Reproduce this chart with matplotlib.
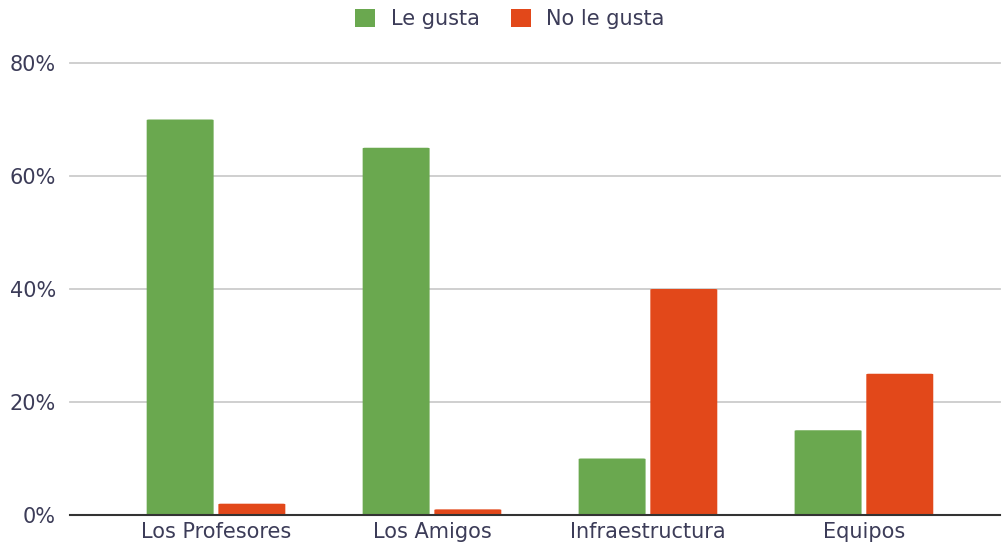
import matplotlib
matplotlib.use("Agg")
import matplotlib.pyplot as plt
from matplotlib.patches import FancyBboxPatch
import numpy as np

categories = ["Los Profesores", "Los Amigos", "Infraestructura", "Equipos"]
le_gusta = [70, 65, 10, 15]
no_le_gusta = [2, 1, 40, 25]
y_ticks = [0, 20, 40, 60, 80]

GREEN = "#6aa84f"
RED = "#e2481a"
TEXT = "#3c3c58"

plt.rcParams["font.family"] = ["DejaVu Sans"]

fig = plt.figure(figsize=(10.02, 5.48), dpi=100)
ax = fig.add_axes([70 / 1002, 33 / 548, 930 / 1002, 452 / 548])

x = np.arange(len(categories))
width = 0.31
offset = 0.166


def rounded_bars(ax, xs, vals, color):
    for xi, v in zip(xs, vals):
        p = FancyBboxPatch((xi - width / 2, 0), width, v,
                           boxstyle="round,pad=0,rounding_size=0.012",
                           mutation_aspect=80 / 4.3 * 0.5,
                           facecolor=color, edgecolor="none", zorder=3)
        ax.add_patch(p)


rounded_bars(ax, x - offset, le_gusta, GREEN)
rounded_bars(ax, x + offset, no_le_gusta, RED)

ax.set_xlim(-0.676, 3.63)
ax.set_ylim(0, 80)
ax.set_yticks(y_ticks)
ax.set_yticklabels([f"{t}%" for t in y_ticks])
ax.set_xticks(x)
ax.set_xticklabels(categories)
ax.tick_params(axis="both", length=0, labelsize=15, colors=TEXT)
ax.tick_params(axis="y", pad=10)
ax.tick_params(axis="x", pad=5)

for t in y_ticks[1:]:
    ax.axhline(t, color="#cccccc", linewidth=1.3, zorder=0, clip_on=False)
for s in ["top", "right", "left"]:
    ax.spines[s].set_visible(False)
ax.spines["bottom"].set_color("#333333")
ax.spines["bottom"].set_linewidth(1.5)
ax.spines["bottom"].set_zorder(4)

handles = [plt.Rectangle((0, 0), 1, 1, facecolor=GREEN),
           plt.Rectangle((0, 0), 1, 1, facecolor=RED)]
fig.legend(handles, ["Le gusta", "No le gusta"], loc="center",
           bbox_to_anchor=(510 / 1002, 1 - 19 / 548), ncol=2, frameon=False,
           fontsize=15, labelcolor=TEXT, handlelength=0.95, handleheight=0.95,
           handletextpad=0.75, columnspacing=1.5)

fig.savefig("out.png", dpi=100)
